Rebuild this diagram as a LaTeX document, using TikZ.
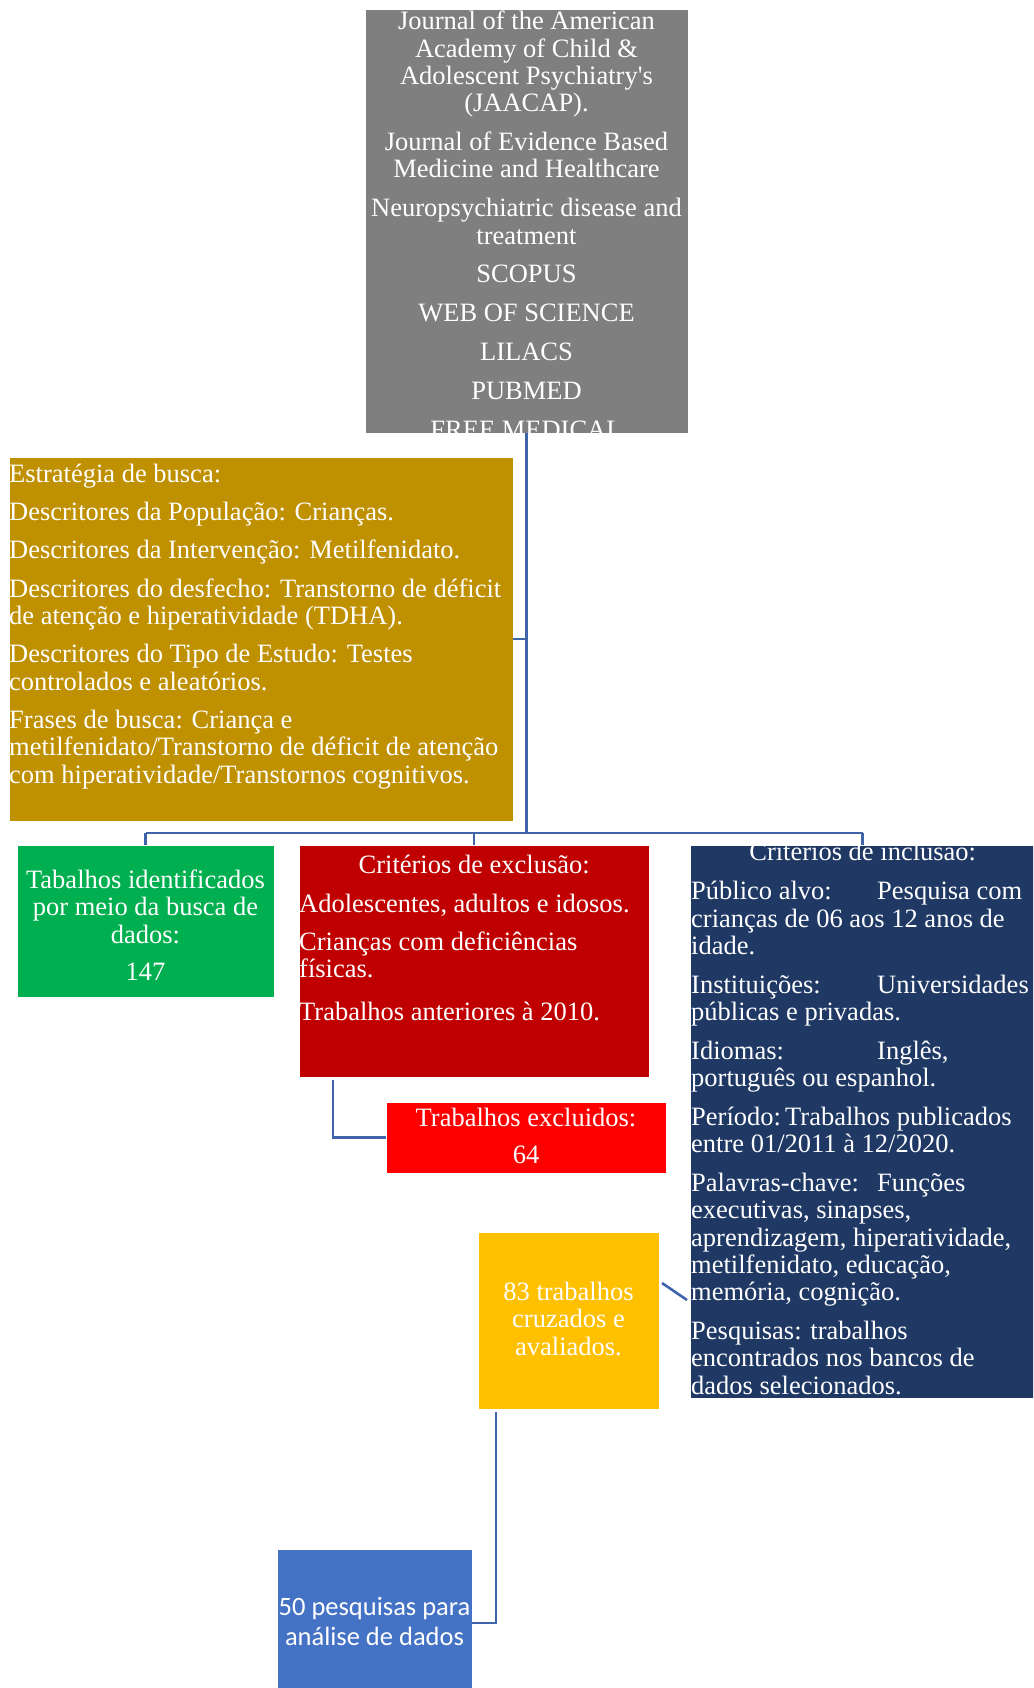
\documentclass[tikz,border=0pt]{standalone}
\usepackage{fontspec}
\setmainfont{Liberation Serif}
\newfontfamily\calibri{Carlito}
\usetikzlibrary{calc, positioning}

\definecolor{cinza}{HTML}{7F7F7F}
\definecolor{ouro}{HTML}{BF9000}
\definecolor{verde}{HTML}{00B050}
\definecolor{vinho}{HTML}{C00000}
\definecolor{vermelho}{HTML}{FF0000}
\definecolor{marinho}{HTML}{1F3864}
\definecolor{amarelo}{HTML}{FFC000}
\definecolor{azul}{HTML}{4472C4}
\definecolor{linha}{HTML}{4064AA}

\begin{document}
\begin{tikzpicture}[x=1pt,y=-1pt,
  caixa/.style={anchor=north west,inner sep=0pt,outer sep=0pt,draw=white,line width=0.6pt},
  texto/.style={inner sep=0pt,text=white,font=\fontsize{26.5}{27.3}\selectfont},
  liga/.style={draw=linha,line width=2.6pt}]
\clip (0,0) rectangle (1033,1688);
\fill[white] (0,0) rectangle (1033,1688);

\node[caixa,fill=cinza,minimum width=323pt,minimum height=424pt] (fontes) at (365,9) {};
\node[caixa,fill=ouro,minimum width=504pt,minimum height=364pt] (estrategia) at (9,457) {};
\node[caixa,fill=verde,minimum width=257pt,minimum height=152pt] (identificados) at (17,845) {};
\node[caixa,fill=vinho,minimum width=350pt,minimum height=232pt] (exclusao) at (299,845) {};
\node[caixa,fill=vermelho,minimum width=280pt,minimum height=71pt] (excluidos) at (386,1102) {};
\node[caixa,fill=marinho,minimum width=345pt,minimum height=553pt] (inclusao) at (690,845) {};
\node[caixa,fill=amarelo,minimum width=181pt,minimum height=177pt] (cruzados) at (478,1232) {};
\node[caixa,fill=azul,minimum width=195pt,minimum height=148pt] (analise) at (277,1549) {};

\coordinate (barra) at (526,833);
\draw[liga] (fontes.south) -- (fontes.south |- barra);
\draw[liga] (estrategia.east) -- (estrategia.east -| fontes.south);
\draw[liga] (identificados.north |- barra) -- (inclusao.north |- barra);
\foreach \n in {identificados,exclusao,inclusao}{
  \draw[liga] (\n.north |- barra) -- (\n.north);
};
\draw[liga] ([xshift=34pt,yshift=-3pt]exclusao.south west) |- (excluidos.west);
\draw[liga] ($(cruzados.north east)+(3,51)$) -- ($(inclusao.south west)+(-3,-98)$);
\draw[liga] ([xshift=18pt,yshift=-3pt]cruzados.south west) |- (analise.east);

\begin{scope}
\clip (fontes.north west) rectangle (fontes.south east);
\node[texto,align=center,anchor=base] (t-fontes) at (526.5,438) {Journal of the American\\ Academy of Child \&\\ Adolescent Psychiatry\textquotesingle s\\ (JAACAP).\\[11.5pt]
  Journal of Evidence Based\\ Medicine and Healthcare\\[11.5pt]
  Neuropsychiatric disease and\\ treatment\\[11.5pt]
  SCOPUS\\[11.5pt] WEB OF SCIENCE\\[11.5pt] LILACS\\[11.5pt] PUBMED\\[11.5pt] FREE MEDICAL};
\end{scope}

\node[texto,align=left,anchor=base west] (t-estrategia) at (9,783) {Estratégia de busca:\\[11pt]
  Descritores da População: Crianças.\\[11pt]
  Descritores da Intervenção: Metilfenidato.\\[11pt]
  Descritores do desfecho: Transtorno de déficit\\ de atenção e hiperatividade (TDHA).\\[11pt]
  Descritores do Tipo de Estudo: Testes\\ controlados e aleatórios.\\[11pt]
  Frases de busca: Criança e\\ metilfenidato/Transtorno de déficit de atenção\\ com hiperatividade/Transtornos cognitivos.};

\node[texto,align=center,anchor=base] (t-identificados) at (145.5,980) {Tabalhos identificados\\ por meio da busca de\\ dados:\\[9.5pt] 147};

\node[texto,align=left,anchor=base west] (t-exclusao) at (299,1020) {\makebox[350pt]{Critérios de exclusão:}\\[11pt]
  Adolescentes, adultos e idosos.\\[11pt]
  Crianças com deficiências\\ físicas.\\[15pt]
  Trabalhos anteriores à 2010.};

\node[texto,align=center,anchor=base] (t-excluidos) at (526,1163) {Trabalhos excluidos:\\[9pt] 64};

\begin{scope}
\clip (inclusao.north west) rectangle (inclusao.south east);
\node[texto,align=left,anchor=base west] (t-inclusao) at (691,1394) {\makebox[343pt]{Critérios de inclusão:}\\[12pt]
  \makebox[186pt][l]{Público alvo:}Pesquisa com\\ crianças de 06 aos 12 anos de\\ idade.\\[11.5pt]
  \makebox[186pt][l]{Instituições:}Universidades\\ públicas e privadas.\\[11.5pt]
  \makebox[186pt][l]{Idiomas:}Inglês,\\ português ou espanhol.\\[11.5pt]
  \makebox[94pt][l]{Período:}Trabalhos publicados\\ entre 01/2011 à 12/2020.\\[11.5pt]
  \makebox[186pt][l]{Palavras-chave:}Funções\\ executivas, sinapses,\\ aprendizagem, hiperatividade,\\ metilfenidato, educação,\\ memória, cognição.\\[11.5pt]
  Pesquisas: trabalhos\\ encontrados nos bancos de\\ dados selecionados.};
\end{scope}

\node[texto,align=center,anchor=base] (t-cruzados) at (568.5,1355) {83 trabalhos\\ cruzados e\\ avaliados.};

\node[texto,align=center,anchor=base,font=\calibri\fontsize{26.5}{30}\selectfont] (t-analise) at (374.5,1645) {50 pesquisas para\\ análise de dados};
\end{tikzpicture}
\end{document}
